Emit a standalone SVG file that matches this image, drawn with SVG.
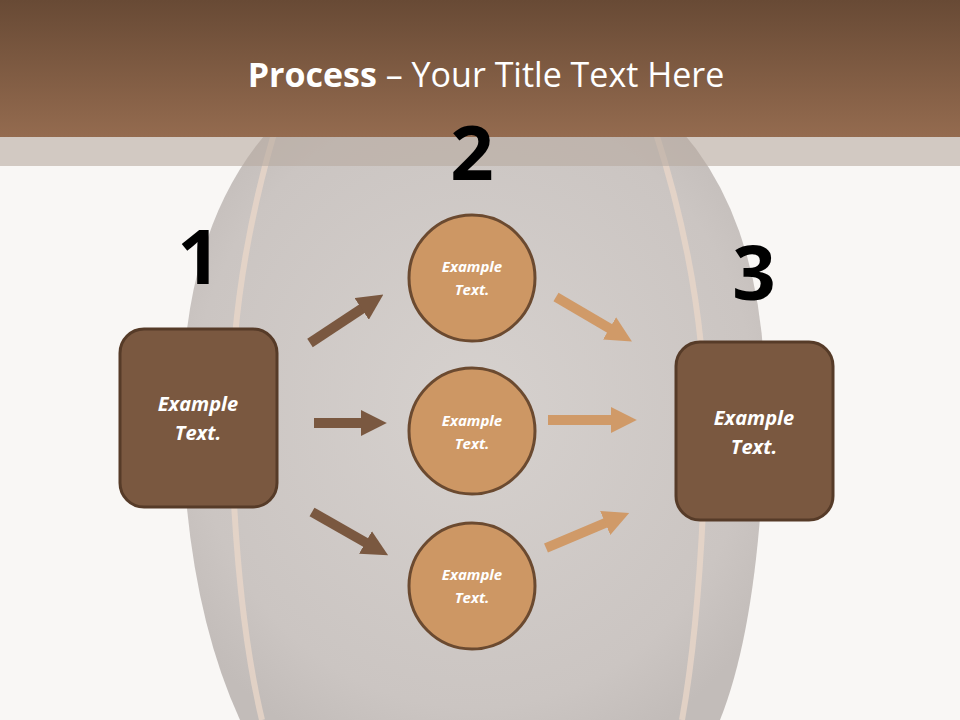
<svg xmlns="http://www.w3.org/2000/svg" width="960" height="720" viewBox="0 0 960 720">
<style>
.t{font-family:"Open Sans","Liberation Sans",sans-serif;fill:#fff;font-style:italic;font-weight:bold;text-anchor:middle}
.n{font-family:"Open Sans","Liberation Sans",sans-serif;font-weight:bold;font-size:76px;text-anchor:middle;fill:#000}
.box{fill:#7a5840;stroke:#563b28;stroke-width:3}
.cir{fill:#cd9764;stroke:#6b4a30;stroke-width:3}
.ad{stroke:#7a5840;stroke-width:10;fill:none;marker-end:url(#hd)}
.al{stroke:#d09a68;stroke-width:10;fill:none;marker-end:url(#hl)}
</style>
<defs>
<linearGradient id="hg" x1="0" y1="0" x2="0" y2="1"><stop offset="0" stop-color="#684a35"/><stop offset="1" stop-color="#946b4f"/></linearGradient>
<radialGradient id="eg" cx="0.5" cy="0.5" r="0.6"><stop offset="0" stop-color="#d6d1ce"/><stop offset="0.8" stop-color="#cbc5c2"/><stop offset="1" stop-color="#c2bcb9"/></radialGradient>
<marker id="hd" viewBox="0 0 10 10" refX="2" refY="5" markerWidth="2.6" markerHeight="2.6" orient="auto"><path d="M0,0L10,5L0,10z" fill="#7a5840"/></marker>
<marker id="hl" viewBox="0 0 10 10" refX="2" refY="5" markerWidth="2.6" markerHeight="2.6" orient="auto"><path d="M0,0L10,5L0,10z" fill="#d09a68"/></marker>
</defs>
<rect width="960" height="720" fill="#f9f7f5"/>
<g id="egg">
<path d="M300,100 Q470,80 650,100 Q770,200 765,420 Q760,620 720,720 L240,720 Q185,600 182,420 Q180,200 300,100z" fill="url(#eg)"/>
<path d="M275,130 Q225,300 232,460 Q238,620 262,720" fill="none" stroke="#e8d6c8" stroke-width="6" opacity="0.8"/>
<path d="M655,130 Q710,300 705,460 Q700,620 682,720" fill="none" stroke="#e8d6c8" stroke-width="6" opacity="0.8"/>
</g>
<rect y="0" width="960" height="137" fill="url(#hg)"/>
<rect y="137" width="960" height="29" fill="#b8aaa0" opacity="0.6"/>
<text x="486" y="87" font-family="'Open Sans','Liberation Sans',sans-serif" font-size="34" fill="#fff" text-anchor="middle"><tspan font-weight="bold">Process</tspan> – Your Title Text Here</text>
<text class="n" x="199" y="284">1</text>
<text class="n" x="472" y="180">2</text>
<text class="n" x="754" y="300">3</text>
<g id="connectors">
<line class="ad" x1="310" y1="343" x2="366" y2="306"/>
<line class="ad" x1="314" y1="423" x2="366" y2="423"/>
<line class="ad" x1="312" y1="512" x2="370" y2="545"/>
<line class="al" x1="556" y1="297" x2="614" y2="331"/>
<line class="al" x1="548" y1="420" x2="616" y2="420"/>
<line class="al" x1="546" y1="548" x2="610" y2="521"/>
</g>
<g id="box1"><rect class="box" x="120" y="329" width="157" height="178" rx="24"/><text class="t" font-size="20" x="198" y="411">Example</text><text class="t" font-size="20" x="198" y="440">Text.</text></g>
<g id="box3"><rect class="box" x="676" y="342" width="157" height="178" rx="24"/><text class="t" font-size="20" x="754" y="425">Example</text><text class="t" font-size="20" x="754" y="454">Text.</text></g>
<g id="c1"><circle class="cir" cx="472" cy="278" r="63"/><text class="t" font-size="15" x="472" y="272">Example</text><text class="t" font-size="15" x="472" y="295">Text.</text></g>
<g id="c2"><circle class="cir" cx="472" cy="431" r="63"/><text class="t" font-size="15" x="472" y="426">Example</text><text class="t" font-size="15" x="472" y="449">Text.</text></g>
<g id="c3"><circle class="cir" cx="472" cy="586" r="63"/><text class="t" font-size="15" x="472" y="580">Example</text><text class="t" font-size="15" x="472" y="603">Text.</text></g>
</svg>
